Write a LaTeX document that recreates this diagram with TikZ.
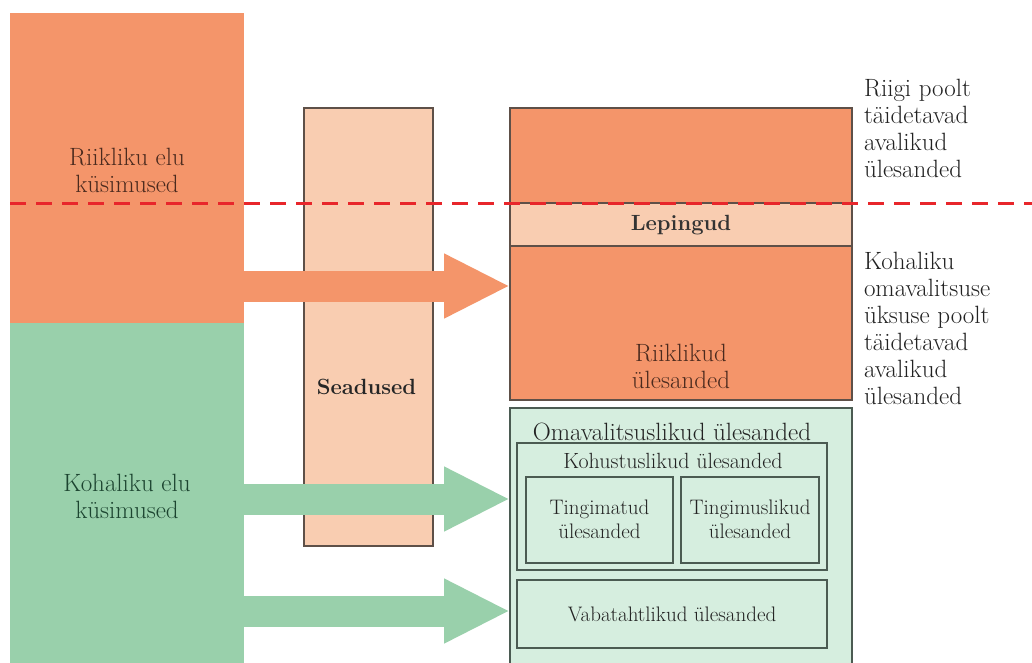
\documentclass[tikz,border=0pt]{standalone}
\usetikzlibrary{arrows.meta}
\definecolor{orng}{HTML}{F4956A}
\definecolor{grn}{HTML}{99D0AB}
\definecolor{peach}{HTML}{F9CDB1}
\definecolor{lgrn}{HTML}{D6EEDF}
\definecolor{brd}{HTML}{5E5048}
\definecolor{gbrd}{HTML}{4B5B52}
\definecolor{dashred}{HTML}{E8262B}
\definecolor{txt}{HTML}{222222}
\definecolor{brtxt}{HTML}{4A2A1E}
\definecolor{grtxt}{HTML}{1C4430}
\begin{document}
\begin{tikzpicture}[x=1pt,y=-1pt,
  every node/.style={inner sep=0pt, outer sep=0pt},
  big/.style={font=\fontsize{25}{27}\selectfont, align=center},
  boldtxt/.style={font=\fontsize{22}{25}\selectfont\bfseries, align=center},
  small/.style={font=\fontsize{21}{24}\selectfont, align=center, text=txt},
  gbox/.style={draw=gbrd, line width=1.4pt, fill=lgrn},
  arr/.style={line width=31pt, -{Triangle[length=66pt,width=60pt]}}
]
\useasboundingbox (0,0) rectangle (1032,662);
\clip (0,0) rectangle (1032,662);
\fill[white] (0,0) rectangle (1032,662);

% left columns
\node[fill=orng, minimum width=234pt, minimum height=310pt] (rl) at (127,168) {};
\node[fill=grn, minimum width=234pt, minimum height=347pt] (kl) at (127,496.5) {};
\node[big, text=brtxt] (rlt) at (127,170) {Riikliku elu\\küsimused};
\node[big, text=grtxt] (klt) at (127,496) {Kohaliku elu\\küsimused};

% laws
\node[draw=brd, line width=1.2pt, fill=peach, minimum width=129pt, minimum height=438pt] (sea) at (368.5,327) {};
\node[boldtxt, text=black!85] (seat) at (366.5,387) {Seadused};

% right top
\node[draw=brd, line width=1.2pt, fill=orng, minimum width=342pt, minimum height=292pt] (ro) at (681,254) {};
\node[draw=brd, line width=1.2pt, fill=peach, minimum width=342pt, minimum height=43pt] (lep) at (681,224.5) {};
\node[boldtxt, text=black!80] (lept) at (681,225) {Lepingud};
\node[big, text=brtxt] (rikt) at (681,366) {Riiklikud\\ülesanded};

% right bottom
\node[gbox, minimum width=342pt, minimum height=262pt] (om) at (681,539) {};
\node[big, text=txt] (omt) at (672,432) {Omavalitsuslikud ülesanded};
\node[gbox, minimum width=310pt, minimum height=127pt] (koh) at (672,506.5) {};
\node[small, font=\fontsize{22}{24}\selectfont] (koht) at (673,461) {Kohustuslikud ülesanded};
\node[gbox, minimum width=147pt, minimum height=86pt] (tm) at (599.5,520) {};
\node[small] (tmt) at (599.5,519) {Tingimatud\\ülesanded};
\node[gbox, minimum width=138pt, minimum height=86pt] (tl) at (750,520) {};
\node[small] (tlt) at (750,519) {Tingimuslikud\\ülesanded};
\node[gbox, minimum width=310pt, minimum height=68pt] (vab) at (672,614) {};
\node[small] (vabt) at (672,614) {Vabatahtlikud ülesanded};

% arrows
\coordinate (a1) at (0,286);
\coordinate (a2) at (0,499);
\coordinate (a3) at (0,611);
\draw[arr, draw=orng, fill=orng] (rl.east |- a1) -- (ro.west |- a1);
\draw[arr, draw=grn, fill=grn] (kl.east |- a2) -- (om.west |- a2);
\draw[arr, draw=grn, fill=grn] (kl.east |- a3) -- (om.west |- a3);

% dashed boundary
\coordinate (d1) at (10,203);
\coordinate (d2) at (1032,203);
\draw[dashred, line width=3pt, dash pattern=on 16pt off 10pt] (d1) -- (d2);

% right labels
\node[font=\fontsize{25}{27}\selectfont, align=left, anchor=north west, text=txt] (lab1) at (864,79) {Riigi poolt\\täidetavad\\avalikud\\ülesanded};
\node[font=\fontsize{25}{27}\selectfont, align=left, anchor=north west, text=txt] (lab2) at (864,252.5) {Kohaliku\\omavalitsuse\\üksuse poolt\\täidetavad\\avalikud\\ülesanded};
\end{tikzpicture}
\end{document}
